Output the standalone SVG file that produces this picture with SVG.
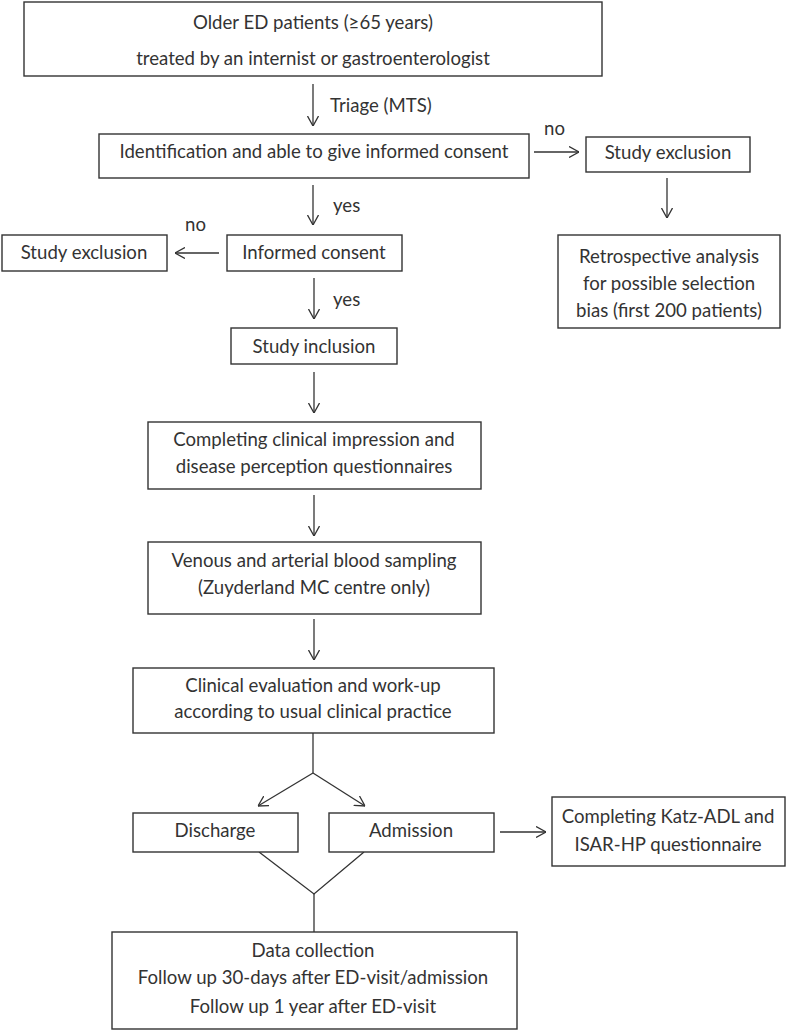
<svg xmlns="http://www.w3.org/2000/svg" width="787" height="1032" viewBox="0 0 787 1032">
<style>
.box{fill:#fff;stroke:#333;stroke-width:1.4}
.t{font-family:Lato,"Liberation Sans",sans-serif;font-size:18.6px;fill:#333;text-anchor:middle}
.l{font-family:Lato,"Liberation Sans",sans-serif;font-size:18.6px;fill:#333}
.c{fill:none;stroke:#333;stroke-width:1.3}
</style>
<defs>
<marker id="ah" viewBox="0 0 10 12" refX="10" refY="6" markerWidth="10" markerHeight="12" markerUnits="userSpaceOnUse" orient="auto">
<path d="M0,0.5 L10,6 L0,11.5" fill="none" stroke="#333" stroke-width="1.3"/>
</marker>
</defs>
<rect width="787" height="1032" fill="#fff"/>
<g id="connectors">
<line class="c" x1="313" y1="84" x2="313" y2="126" marker-end="url(#ah)"/>
<text class="l" x="330" y="112">Triage (MTS)</text>
<line class="c" x1="534" y1="152" x2="579" y2="152" marker-end="url(#ah)"/>
<text class="l" x="544" y="135">no</text>
<line class="c" x1="667" y1="178" x2="667" y2="218" marker-end="url(#ah)"/>
<line class="c" x1="313" y1="185" x2="313" y2="225" marker-end="url(#ah)"/>
<text class="l" x="333" y="212">yes</text>
<line class="c" x1="219" y1="253" x2="175" y2="253" marker-end="url(#ah)"/>
<text class="l" x="185" y="231">no</text>
<line class="c" x1="314" y1="278" x2="314" y2="319" marker-end="url(#ah)"/>
<text class="l" x="333" y="306">yes</text>
<line class="c" x1="314" y1="372" x2="314" y2="413" marker-end="url(#ah)"/>
<line class="c" x1="314" y1="495" x2="314" y2="536" marker-end="url(#ah)"/>
<line class="c" x1="314" y1="619" x2="314" y2="660" marker-end="url(#ah)"/>
<line class="c" x1="313" y1="733" x2="313" y2="773"/>
<line class="c" x1="313" y1="773" x2="258" y2="806" marker-end="url(#ah)"/>
<line class="c" x1="313" y1="773" x2="365" y2="806" marker-end="url(#ah)"/>
<line class="c" x1="500" y1="832" x2="546" y2="832" marker-end="url(#ah)"/>
<polyline class="c" points="259,852 314,894 364,852"/>
<line class="c" x1="314" y1="894" x2="314" y2="932"/>
</g>
<g id="n1"><rect class="box" x="24" y="2" width="578" height="74"/>
<text class="t" x="313" y="29">Older ED patients (≥65 years)</text>
<text class="t" x="313" y="65">treated by an internist or gastroenterologist</text></g>
<g id="n2"><rect class="box" x="99" y="134" width="430" height="44"/>
<text class="t" x="314" y="158">Identification and able to give informed consent</text></g>
<g id="n3"><rect class="box" x="586" y="137" width="164" height="35"/>
<text class="t" x="668" y="159">Study exclusion</text></g>
<g id="n4"><rect class="box" x="558" y="235" width="222" height="93"/>
<text class="t" x="669" y="263">Retrospective analysis</text>
<text class="t" x="669" y="290">for possible selection</text>
<text class="t" x="669" y="317">bias (first 200 patients)</text></g>
<g id="n5"><rect class="box" x="2" y="235" width="165" height="36"/>
<text class="t" x="84" y="259">Study exclusion</text></g>
<g id="n6"><rect class="box" x="227" y="235" width="175" height="36"/>
<text class="t" x="314" y="259">Informed consent</text></g>
<g id="n7"><rect class="box" x="231" y="328" width="166" height="36"/>
<text class="t" x="314" y="353">Study inclusion</text></g>
<g id="n8"><rect class="box" x="148" y="422" width="333" height="67"/>
<text class="t" x="314" y="446">Completing clinical impression and</text>
<text class="t" x="314" y="473">disease perception questionnaires</text></g>
<g id="n9"><rect class="box" x="148" y="542" width="333" height="72"/>
<text class="t" x="314" y="567">Venous and arterial blood sampling</text>
<text class="t" x="314" y="594">(Zuyderland MC centre only)</text></g>
<g id="n10"><rect class="box" x="133" y="668" width="361" height="65"/>
<text class="t" x="313" y="692">Clinical evaluation and work-up</text>
<text class="t" x="313" y="718">according to usual clinical practice</text></g>
<g id="n11"><rect class="box" x="133" y="813" width="165" height="39"/>
<text class="t" x="215" y="837">Discharge</text></g>
<g id="n12"><rect class="box" x="329" y="813" width="165" height="39"/>
<text class="t" x="411" y="837">Admission</text></g>
<g id="n13"><rect class="box" x="552" y="797" width="233" height="69"/>
<text class="t" x="668" y="823">Completing Katz-ADL and</text>
<text class="t" x="668" y="851">ISAR-HP questionnaire</text></g>
<g id="n14"><rect class="box" x="112" y="932" width="405" height="97"/>
<text class="t" x="313" y="957">Data collection</text>
<text class="t" x="313" y="984">Follow up 30-days after ED-visit/admission</text>
<text class="t" x="313" y="1013">Follow up 1 year after ED-visit</text></g>
</svg>
